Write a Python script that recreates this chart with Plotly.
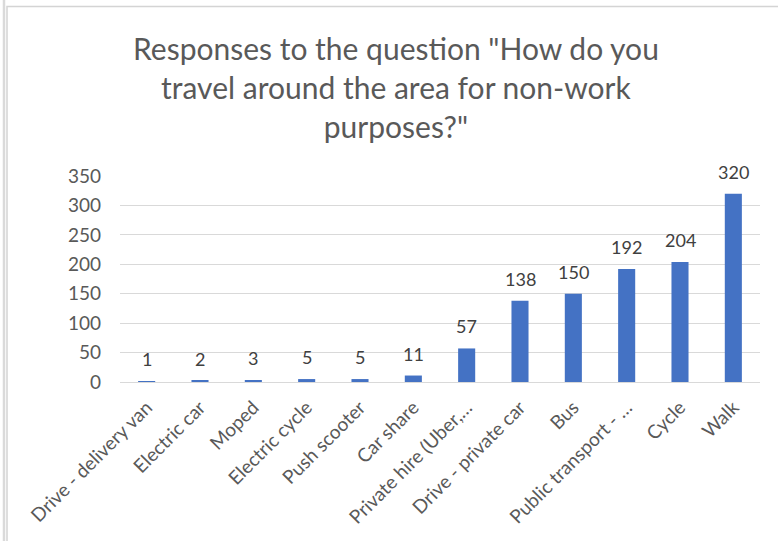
import plotly.graph_objects as go

categories = ["Drive - delivery van", "Electric car", "Moped", "Electric cycle", "Push scooter",
              "Car share", "Private hire (Uber,…", "Drive - private car", "Bus",
              "Public transport - …", "Cycle", "Walk"]
values = [1, 2, 3, 5, 5, 11, 57, 138, 150, 192, 204, 320]
y_ticks = [0, 50, 100, 150, 200, 250, 300, 350]
title_text = 'Responses to the question "How do you<br>travel around the area for non-work<br>purposes?"'

FONT = "Lato"
TXT = "#595959"
BAR = "#4472C4"

fig = go.Figure(go.Bar(x=categories, y=values, marker=dict(color=BAR, line=dict(width=0)),
                       hoverinfo="x+y"))

for c, v in zip(categories, values):
    fig.add_annotation(x=c, y=v, text=str(v), showarrow=False, yanchor="bottom",
                       yshift=9, font=dict(family=FONT, size=18, color="#404040"))

W, H = 778, 541
ml, mt = 120, 176
pw, ph = 640, 206
mr, mb = W - ml - pw, H - mt - ph

def px_x(p):
    return (p - ml) / pw

def px_y(p):
    return 1 + (mt - p) / ph

# title as annotation for precise placement
fig.add_annotation(x=px_x(396), xref="paper", y=px_y(28), yref="paper",
                   xanchor="center", yanchor="top", showarrow=False, align="center",
                   text=title_text, font=dict(family=FONT, size=30, color=TXT))

# outer window edge line and chart frame (extend beyond visible area at right/bottom)
fig.add_shape(type="line", xref="paper", yref="paper",
              x0=px_x(4), x1=px_x(4), y0=px_y(H + 10), y1=px_y(-10),
              line=dict(color="#dadada", width=2.5), layer="below")
fig.add_shape(type="rect", xref="paper", yref="paper",
              x0=px_x(7), x1=px_x(W + 20), y0=px_y(H + 20), y1=px_y(6.5),
              line=dict(color="#d4d4d4", width=1.5), fillcolor="rgba(0,0,0,0)", layer="below")

fig.update_layout(
    width=W, height=H,
    margin=dict(l=ml, r=mr, t=mt, b=mb, autoexpand=False),
    paper_bgcolor="white", plot_bgcolor="white",
    bargap=0.68,
    showlegend=False,
    font=dict(family=FONT, color=TXT),
    xaxis=dict(tickangle=-45, tickfont=dict(family=FONT, size=19, color=TXT),
               showline=True, linecolor="#d9d9d9", linewidth=1, ticks="",
               ticklabelstandoff=6, automargin=False),
    yaxis=dict(range=[0, 350], tickvals=y_ticks, tickfont=dict(family=FONT, size=19, color=TXT),
               showgrid=True, gridcolor="#d9d9d9", gridwidth=1, zeroline=False,
               showline=False, ticks="", ticklabelstandoff=18, automargin=False),
)

fig.write_html("out.html", config={"displayModeBar": False},
               post_script="document.body.style.margin='0';document.body.style.overflow='hidden';")
